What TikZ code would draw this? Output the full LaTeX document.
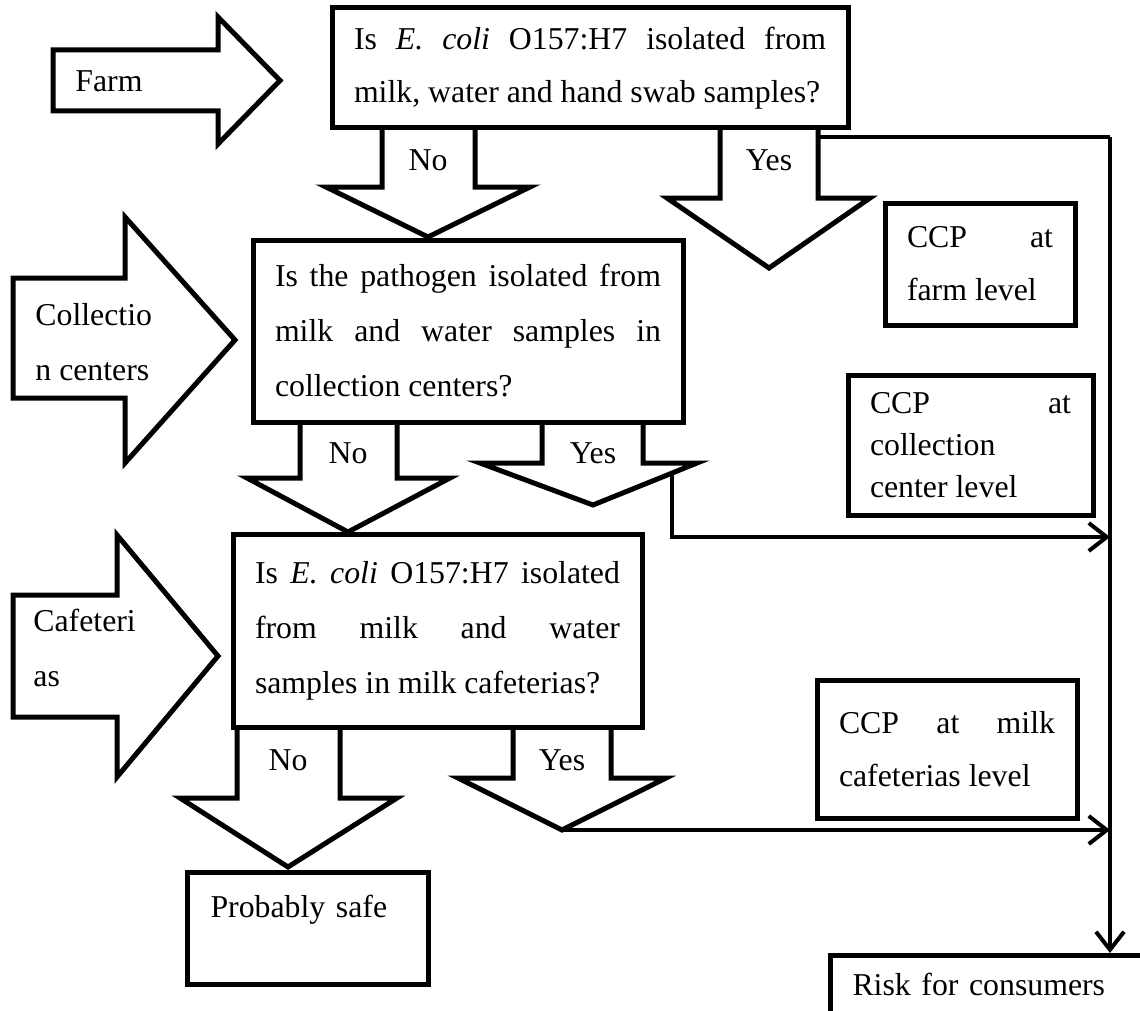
\documentclass[tikz,border=0pt]{standalone}
\usepackage{fontspec}
\setmainfont{Liberation Serif}
\usetikzlibrary{arrows.meta,calc}
\tikzset{
  qbox/.style={rectangle, draw, line width=2.5pt, align=justify,
               inner xsep=11pt, inner ysep=0pt,
               font={\fontsize{15.9pt}{27.5pt}\selectfont}},
  bigarrow/.style={draw, line width=2.5pt, line join=miter},
  tag/.style={inner sep=0pt, font={\fontsize{15.9pt}{27.5pt}\selectfont}},
  link/.style={line width=2pt},
  linkarrow/.style={line width=2pt, -{Straight Barb[length=9pt,width=14pt]}},
}
\begin{document}
\begin{tikzpicture}[x=0.5pt, y=-0.5pt]
  \useasboundingbox (0,0) rectangle (1140,1011);

  % side arrows
  \draw[bigarrow] (53,50) -- (218,50) -- (218,17) -- (280,80.5) -- (218,144)
        -- (218,111) -- (53,111) -- cycle;
  \node[tag, anchor=base west] (farm) at (75,92) {Farm};
  \draw[bigarrow] (13,278) -- (125,278) -- (125,217) -- (235,340) -- (125,463)
        -- (125,398) -- (13,398) -- cycle;
  \node[tag, anchor=west, align=left] (coll) at (35,342) {Collectio\\n centers};
  \draw[bigarrow] (13,595) -- (117,595) -- (117,535) -- (218,656) -- (117,777)
        -- (117,717) -- (13,717) -- cycle;
  \node[tag, anchor=west, align=left] (cafe) at (33,648) {Cafeteri\\as};

  % questions
  \node[qbox, text width=236pt, minimum height=60pt,
        font={\fontsize{15.9pt}{26.5pt}\selectfont}] (q1) at (590,68)
       {Is \textit{E. coli} O157:H7 isolated from\linebreak milk, water and hand swab samples?};
  \node[qbox, text width=193pt, minimum height=91pt] (q2) at (468,331)
       {Is the pathogen isolated from\linebreak milk and water samples in\linebreak collection centers?};
  \node[qbox, text width=182.5pt, minimum height=96.5pt] (q3) at (437.5,630.5)
       {Is \textit{E. coli} O157:H7 isolated\linebreak from milk and water\linebreak samples in milk cafeterias?};

  % outcomes
  \node[qbox, text width=73pt, minimum height=61pt,
        font={\fontsize{15.9pt}{26.5pt}\selectfont}] (ccp1) at (980,264)
       {CCP at\linebreak farm level};
  \node[qbox, text width=100.5pt, minimum height=70pt,
        font={\fontsize{15.9pt}{21pt}\selectfont}] (ccp2) at (970.5,445)
       {CCP at\linebreak collection\linebreak center level};
  \node[qbox, text width=108pt, minimum height=69pt,
        font={\fontsize{15.9pt}{26.5pt}\selectfont}] (ccp3) at (947,749)
       {CCP at milk\linebreak cafeterias level};
  \node[qbox, anchor=north west, align=left, text width=97.5pt, inner xsep=11.5pt,
        text height=22.5pt, text depth=33.5pt] (safe) at (185,870) {Probably safe};
  \node[qbox, anchor=north west, align=left, text width=180pt,
        text height=20pt, text depth=40pt] (risk) at (828,953) {Risk for consumers};

  % down arrows
  \draw[bigarrow] (382,128) -- (382,187) -- (326,187) -- (428,237) -- (530,187)
        -- (475,187) -- (475,128);
  \node[tag, anchor=base] (no1) at (428,170) {No};
  \draw[bigarrow] (720,128) -- (720,198) -- (667,198) -- (769,268) -- (870,198)
        -- (818,198) -- (818,128);
  \node[tag, anchor=base] (yes1) at (769,170) {Yes};
  \draw[bigarrow] (300,422) -- (300,478) -- (247,478) -- (348,532) -- (450,478)
        -- (397,478) -- (397,422);
  \node[tag, anchor=base] (no2) at (348,463) {No};
  \draw[bigarrow] (542,422) -- (542,463) -- (480,463) -- (593,505) -- (697,463)
        -- (643,463) -- (643,422);
  \node[tag, anchor=base] (yes2) at (593,463) {Yes};
  \draw[bigarrow] (237,727) -- (237,798) -- (180,798) -- (288,867) -- (397,798)
        -- (340,798) -- (340,727);
  \node[tag, anchor=base] (no3) at (288,770) {No};
  \draw[bigarrow] (513,727) -- (513,778) -- (458,778) -- (562,830) -- (666,778)
        -- (611,778) -- (611,727);
  \node[tag, anchor=base] (yes3) at (562,770) {Yes};

  % links to risk
  \coordinate (yes1out) at (818,137);
  \coordinate (rail) at (1110,137);
  \coordinate (yes2out) at (672,473);
  \coordinate (join2) at (1110,537);
  \coordinate (yes3tip) at (562,830);
  \coordinate (join3) at (1110,830);
  \draw[link] (yes1out) -- (rail);
  \draw[linkarrow] (rail) -- (rail |- risk.north);
  \draw[linkarrow] (yes2out) |- (join2);
  \draw[linkarrow] (yes3tip) -- (join3);
\end{tikzpicture}
\end{document}
